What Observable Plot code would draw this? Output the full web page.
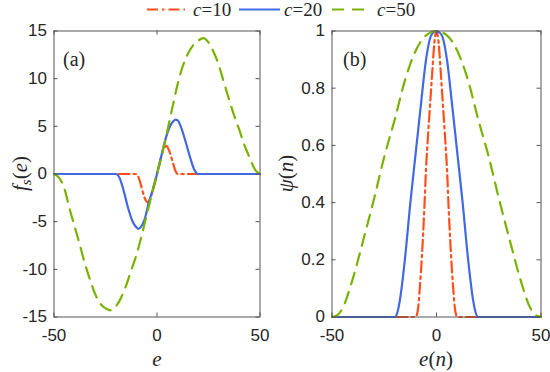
<!DOCTYPE html>
<html>
<head>
<meta charset="utf-8">
<script src="https://cdn.jsdelivr.net/npm/d3@7"></script>
<script src="https://cdn.jsdelivr.net/npm/@observablehq/plot@0.6"></script>
<style>
html, body { margin: 0; padding: 0; background: #fff; }
#fig { position: relative; width: 550px; height: 372px; overflow: hidden; background: #fff; }
#fig > svg { position: absolute; top: 0; }
</style>
</head>
<body>
<div id="fig"></div>
<script>
// ---------- data ----------
const seriesNames = ["c=10", "c=20", "c=50"];
const xTicks = [-50, 0, 50];
const fsTicks = [-15, -10, -5, 0, 5, 10, 15];
const psiTicks = [0, 0.2, 0.4, 0.6, 0.8, 1];

// panel (a): f_s(e)
const fE10 = [-50, -10, -9, -8, -7, -6, -5, -4.5, -4, -3, -2, -1, 0, 1, 2, 3, 4, 4.5, 5, 6, 7, 8, 9, 10, 50];
const f10 = [0, 0, -0.3, -1.0, -1.8, -2.5, -2.9, -3.0, -2.9, -2.4, -1.7, -0.9, 0, 0.9, 1.8, 2.5, 2.9, 2.95, 2.85, 2.4, 1.7, 1.0, 0.3, 0, 0];

const fE20 = [-50, -20, -18, -16, -14, -12, -10, -9, -8, -6, -4, -2, 0, 2, 4, 6, 8, 9, 10, 12, 14, 16, 18, 20, 50];
const f20 = [0, 0, -0.5, -1.9, -3.6, -4.9, -5.6, -5.75, -5.6, -4.75, -3.0, -1.6, 0, 1.8, 3.55, 4.85, 5.55, 5.7, 5.65, 4.7, 3.3, 1.8, 0.5, 0, 0];

const fE50 = [-50, -47.5, -45, -42.5, -40, -37.5, -35, -32.5, -30, -27.5, -25, -22.5, -20, -17.5, -15, -12.5, -10, -7.5, -5, -2.5,
  0, 2.5, 5, 7.5, 10, 12.5, 15, 17.5, 20, 22.5, 25, 27.5, 30, 32.5, 35, 37.5, 40, 42.5, 45, 47.5, 50];
const f50 = [0, -0.4, -1.5, -3.6, -5.5, -7.4, -9.4, -11.1, -12.6, -13.6, -14.1, -14.3, -13.9, -13.0, -11.7, -10.1, -8.5, -6.5, -4.3, -2.1,
  0, 2.1, 4.5, 7.0, 9.4, 11.3, 12.6, 13.5, 14.0, 14.25, 13.8, 12.8, 11.4, 9.6, 7.8, 6.1, 4.6, 3.0, 1.7, 0.5, 0];

// panel (b): psi(n)
const pE10 = [-50, -10, -9, -8, -7, -6, -5, -4, -3, -2, -1, 0, 1, 2, 3, 4, 5, 6, 7, 8, 9, 10, 50];
const psi10 = [0, 0, 0.02, 0.1, 0.21, 0.35, 0.52, 0.64, 0.75, 0.86, 0.96, 1, 0.96, 0.86, 0.75, 0.64, 0.52, 0.35, 0.21, 0.1, 0.02, 0, 0];

const pE20 = [-50, -20, -18.75, -17.5, -15, -12.5, -10, -7.5, -5, -2.5, 0, 2.5, 5, 7.5, 10, 12.5, 15, 17.5, 18.75, 20, 50];
const psi20 = [0, 0, 0.015, 0.06, 0.21, 0.4, 0.57, 0.74, 0.9, 0.985, 1, 0.985, 0.9, 0.74, 0.57, 0.4, 0.21, 0.06, 0.015, 0, 0];

const pE50 = [-50, -47.5, -45, -40, -35, -30, -25, -20, -15, -10, -5, 0, 5, 10, 15, 20, 25, 30, 35, 40, 45, 47.5, 50];
const psi50 = [0, 0.006, 0.03, 0.135, 0.27, 0.41, 0.56, 0.69, 0.83, 0.93, 0.985, 1, 0.985, 0.93, 0.83, 0.69, 0.56, 0.41, 0.27, 0.135, 0.03, 0.006, 0];

// ---------- styling ----------
const lineStyles = [
  {stroke: "#FF4F1A", dash: "11,4,2.5,4"},
  {stroke: "#4169E1", dash: null},
  {stroke: "#77B300", dash: "12,8"}
];
const frameColor = "#555";
const serif = "'Liberation Serif', 'Times New Roman', serif";
const sans = "'Liberation Sans', Arial, sans-serif";

function toRows(E, V) { return E.map((e, i) => ({e, v: V[i]})); }

function panel({sets, domainY, ticksY, marginLeft, marginRight}) {
  const [y0, y1] = domainY;
  return Plot.plot({
    width: 275, height: 372,
    marginLeft, marginRight, marginTop: 30.5, marginBottom: 55.5,
    style: {fontFamily: sans, fontSize: "17px", color: "#262626", background: "transparent", overflow: "visible"},
    x: {domain: [-50, 50], ticks: xTicks, tickFormat: d => String(d), tickSize: 0, tickPadding: 12, label: null},
    y: {domain: domainY, ticks: ticksY, tickFormat: d => String(d), tickSize: 0, tickPadding: 7, label: null},
    marks: [
      ...sets.map(([E, V], k) => Plot.line(toRows(E, V), {
        x: "e", y: "v", stroke: lineStyles[k].stroke, strokeWidth: 2.2,
        strokeDasharray: lineStyles[k].dash, curve: "monotone-x"
      })),
      Plot.frame({stroke: frameColor, strokeWidth: 1}),
      Plot.ruleX(xTicks, {x: d => d, y1: y0, y2: y0, insetBottom: 4, stroke: frameColor}),
      Plot.ruleX(xTicks, {x: d => d, y1: y1, y2: y1, insetTop: 4, stroke: frameColor}),
      Plot.ruleY(ticksY, {y: d => d, x1: -50, x2: -50, insetLeft: 4, stroke: frameColor}),
      Plot.ruleY(ticksY, {y: d => d, x1: 50, x2: 50, insetRight: 4, stroke: frameColor})
    ]
  });
}

const fig = document.getElementById("fig");

const left = panel({
  sets: [[fE10, f10], [fE20, f20], [fE50, f50]],
  domainY: [-15, 15], ticksY: fsTicks, marginLeft: 53.5, marginRight: 15.5
});
left.style.left = "0px";
fig.appendChild(left);

const right = panel({
  sets: [[pE10, psi10], [pE20, psi20], [pE50, psi50]],
  domainY: [0, 1], ticksY: psiTicks, marginLeft: 56.5, marginRight: 9.5
});
right.style.left = "275px";
fig.appendChild(right);

// ---------- labels ----------
function addText(svg, attrs, parts) {
  const t = d3.select(svg).append("text")
    .attr("font-family", serif).attr("fill", "#262626").attr("text-anchor", "start");
  Object.entries(attrs).forEach(([k, v]) => t.attr(k, v));
  parts.forEach(p => {
    const s = t.append("tspan").text(p.t);
    if (p.i) s.attr("font-style", "italic");
    if (p.fs) s.attr("font-size", p.fs);
    if (p.dy) s.attr("dy", p.dy);
  });
  return t;
}
// panel tags
addText(left, {x: 63, y: 66, "font-size": 20}, [{t: "(a)"}]);
addText(right, {x: 68, y: 66, "font-size": 20}, [{t: "(b)"}]);
// x labels
addText(left, {x: 157, y: 366, "font-size": 21, "text-anchor": "middle"}, [{t: "e", i: 1}]);
addText(right, {x: 161, y: 366, "font-size": 21, "text-anchor": "middle"}, [{t: "e", i: 1}, {t: "("}, {t: "n", i: 1}, {t: ")"}]);
// y labels
addText(left, {transform: "translate(27,173.5) rotate(-90)", "font-size": 21, "text-anchor": "middle"},
  [{t: "f", i: 1}, {t: "s", i: 1, fs: 15, dy: 4}, {t: "(", dy: -4}, {t: "e", i: 1}, {t: ")"}]);
addText(right, {transform: "translate(18,173.5) rotate(-90)", "font-size": 21, "text-anchor": "middle"},
  [{t: "ψ", i: 1}, {t: "("}, {t: "n", i: 1}, {t: ")"}]);

// ---------- legend ----------
const legend = d3.create("svg").attr("width", 550).attr("height", 28).style("left", "0px");
const legX = [{x1: 147, x2: 185, tx: 193}, {x1: 239, x2: 280, tx: 284}, {x1: 332, x2: 367, tx: 377}];
seriesNames.forEach((name, k) => {
  const L = legX[k];
  legend.append("line").attr("x1", L.x1).attr("x2", L.x2).attr("y1", 9.5).attr("y2", 9.5)
    .attr("stroke", lineStyles[k].stroke).attr("stroke-width", 2.2)
    .attr("stroke-dasharray", lineStyles[k].dash);
  const [c, rest] = name.split("=");
  const t = legend.append("text").attr("x", L.tx).attr("y", 16).attr("font-family", serif)
    .attr("font-size", 19).attr("fill", "#262626");
  t.append("tspan").attr("font-style", "italic").text(c);
  t.append("tspan").text("=" + rest);
});
fig.appendChild(legend.node());
</script>
</body>
</html>
